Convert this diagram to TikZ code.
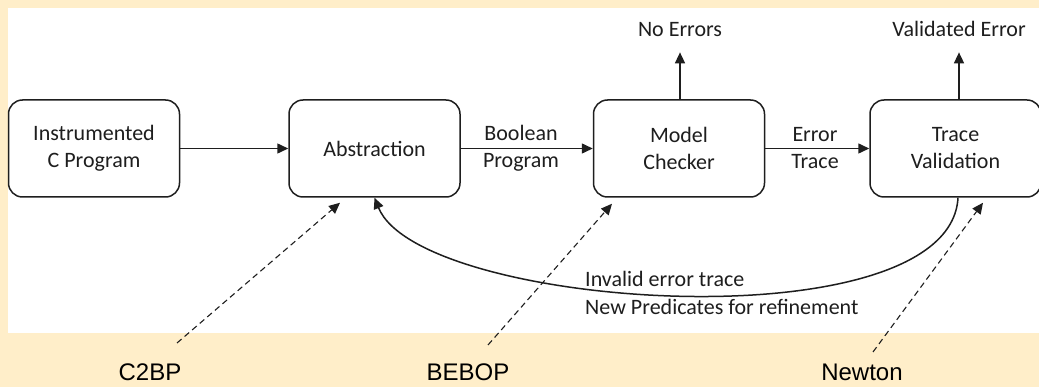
\documentclass[tikz,border=0pt]{standalone}
\usepackage{fontspec}
\setmainfont{Carlito}
\newfontfamily\arialfont{Liberation Sans}
\usetikzlibrary{arrows.meta}
\definecolor{bgyellow}{RGB}{255,238,201}
\definecolor{ink}{RGB}{30,30,30}
\begin{document}
\begin{tikzpicture}[x=1pt,y=-1pt,
  box/.style={draw=ink,line width=1.5pt,rounded corners=14pt,minimum width=171pt,minimum height=97pt,align=center,inner sep=0pt,text=ink,font=\fontsize{22}{27}\selectfont},
  lbl/.style={align=center,inner sep=0pt,text=ink,font=\fontsize{22}{27}\selectfont},
  tool/.style={inner sep=0pt,text=black,font=\arialfont\fontsize{24}{28}\selectfont},
  arr/.style={draw=ink,line width=1.5pt,-{Triangle[length=11pt,width=10pt]}},
  darr/.style={draw=ink,line width=1.1pt,dash pattern=on 6pt off 4pt,-{Triangle[length=11pt,width=10pt]}}]
\useasboundingbox (0,0) rectangle (1039,387);
\fill[bgyellow] (0,0) rectangle (1039,387);
\fill[white] (8,8) rectangle (1039,333);

\node[box] (in) at (94,148.5) {Instrumented\\C Program};
\node[box] (abs) at (374.5,148.5) {Abstraction};
\node[box] (mc) at (679,148.5) {Model\\Checker};
\node[box] (tv) at (955.5,148.5) {Trace\\Validation};

\node[lbl] (bp) at (521,148) {Boolean\\Program};
\node[lbl] (et) at (815,148) {Error\\Trace};

\node[lbl,anchor=base] (noerr) at (680,37) {No Errors};
\node[lbl,anchor=base] (valerr) at (959,37) {Validated Error};

\draw[arr] (in) -- (abs);
\draw[arr] (abs) -- (mc);
\draw[arr] (mc) -- (tv);
\draw[arr] ([xshift=1pt]mc.north) -- ([yshift=-15pt]noerr.south);
\draw[arr] ([xshift=3.5pt]tv.north) -- ([yshift=-15pt]valerr.south);

\draw[arr] ([xshift=2.5pt]tv.south) .. controls (950,345) and (420,310) .. (abs.south);
\node[lbl,align=left,anchor=west,font=\fontsize{22}{28}\selectfont] (fb) at (585,293) {Invalid error trace\\New Predicates for refinement};

\node[tool] (c2bp) at (150,372) {C2BP};
\node[tool] (bebop) at (468,372) {BEBOP};
\node[tool] (newton) at (862,372) {Newton};

\draw[darr] ([xshift=27pt,yshift=29pt]c2bp.center) -- ([xshift=-34.5pt,yshift=-5pt]abs.south);
\draw[darr] ([xshift=20pt,yshift=27pt]bebop.center) -- ([xshift=-67pt,yshift=-6pt]mc.south);
\draw[darr] ([xshift=11pt,yshift=20pt]newton.center) -- ([xshift=27.5pt,yshift=-5pt]tv.south);
\end{tikzpicture}
\end{document}
